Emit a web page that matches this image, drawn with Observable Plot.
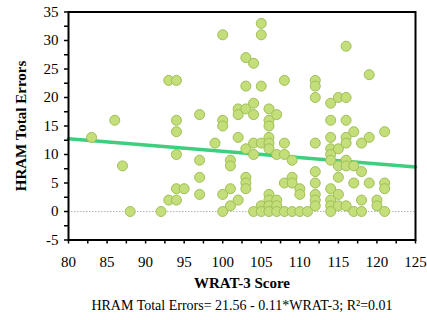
<!DOCTYPE html>
<html>
<head>
<meta charset="utf-8">
<script src="https://cdn.jsdelivr.net/npm/d3@7"></script>
<script src="https://cdn.jsdelivr.net/npm/@observablehq/plot@0.6"></script>
<style>
  html, body { margin: 0; padding: 0; background: white; }
  #chart svg, #chart svg text { font-family: "Liberation Serif", "Times New Roman", serif !important; }
</style>
</head>
<body>
<div id="chart"></div>
<script>
const wrat = [83,86,87,88,92,93,93,94,94,94,94,94,94,95,97,97,97,97,99,
  100,100,100,100,100,
  101,101,101,101,
  102,102,102,102,
  103,103,103,103,103,103,103,
  104,104,104,104,104,104,
  105,105,105,105,105,105,
  106,106,106,106,106,106,106,106,106,106,
  107,107,107,107,107,
  108,108,108,108,108,
  109,109,109,109,
  110,110,110,
  111,
  112,112,112,112,112,112,112,112,112,
  114,114,114,114,114,114,114,114,114,114,
  115,115,115,115,115,115,
  116,116,116,116,116,116,116,116,
  117,117,117,117,
  118,118,118,118,
  119,119,119,
  120,120,
  121,121,121,121];
const errors = [13,16,8,0,0,23,2,23,16,14,10,4,2,4,17,9,6,3,12,
  31,16,15,3,0,
  9,8,4,1,
  18,17,13,2,
  27,22,18,11,6,5,4,
  26,19,17,12,10,0,
  33,31,22,12,1,0,
  18,16,15,13,12,11,3,2,1,0,
  17,10,2,1,0,
  23,12,10,5,0,
  9,6,5,0,
  4,3,0,
  0,
  23,22,20,12,7,5,3,2,1,
  19,16,13,11,10,9,4,2,1,0,
  20,11,8,6,3,1,
  29,20,16,13,12,9,8,1,
  14,8,5,0,
  12,7,2,0,
  24,13,5,
  2,1,
  14,5,4,0];
const fitX = [80, 125];
const fitY = [12.76, 7.81];
const xMajor = [80,85,90,95,100,105,110,115,120,125];
const xMinor = [82.5,87.5,92.5,97.5,102.5,107.5,112.5,117.5,122.5];
const yMajor = [-5,0,5,10,15,20,25,30,35];
const yMinor = [-2.5,2.5,7.5,12.5,17.5,22.5,27.5,32.5];
const xTitle = "WRAT-3 Score";
const yTitle = "HRAM Total Errors";
const caption = "HRAM Total Errors= 21.56 - 0.11*WRAT-3; R\u00B2=0.01";

const points = wrat.map((x, i) => ({x, y: errors[i]}));
const fit = fitX.map((x, i) => ({x, y: fitY[i]}));
const serif = "Liberation Serif";

const chart = Plot.plot({
  width: 427,
  height: 320,
  marginLeft: 68,
  marginRight: 12,
  marginTop: 11.5,
  marginBottom: 80.5,
  x: {domain: [80, 125]},
  y: {domain: [-5, 35]},
  style: {fontSize: "15px", color: "black", background: "white"},
  marks: [
    Plot.ruleY([0], {stroke: "#b5b5b5", strokeDasharray: "1.5,1.5", strokeWidth: 1}),
    Plot.line(fit, {x: "x", y: "y", stroke: "#3fce7e", strokeWidth: 3.5}),
    Plot.dot(points, {x: "x", y: "y", r: 5, fill: "#c4de7a", stroke: "#9fbf58", strokeWidth: 1, fillOpacity: 1}),
    Plot.frame({stroke: "black", strokeWidth: 2}),
    Plot.axisX({ticks: xMajor, tickSize: 4, tickPadding: 12, strokeWidth: 1.5, label: null, tickFormat: d => String(d), fontSize: 15, fontFamily: serif}),
    Plot.axisX({ticks: xMinor, tickSize: 4, strokeWidth: 1.5, label: null, tickFormat: () => ""}),
    Plot.axisY({ticks: yMajor, tickSize: 4, tickPadding: 6, strokeWidth: 1.5, label: null, tickFormat: d => String(d), fontSize: 15, fontFamily: serif}),
    Plot.axisY({ticks: yMinor, tickSize: 4, strokeWidth: 1.5, label: null, tickFormat: () => ""}),
    Plot.text([xTitle], {text: d => d, frameAnchor: "bottom", lineAnchor: "middle", textAnchor: "middle", dy: 43, fontWeight: "bold", fontSize: 15, fontFamily: serif}),
    Plot.text([caption], {text: d => d, frameAnchor: "bottom", lineAnchor: "middle", textAnchor: "middle", dy: 66, fontSize: 14, fontFamily: serif}),
    Plot.text([yTitle], {text: d => d, frameAnchor: "left", lineAnchor: "middle", textAnchor: "middle", dx: -47, rotate: -90, fontWeight: "bold", fontSize: 15, fontFamily: serif})
  ]
});
document.getElementById("chart").appendChild(chart);
</script>
</body>
</html>
